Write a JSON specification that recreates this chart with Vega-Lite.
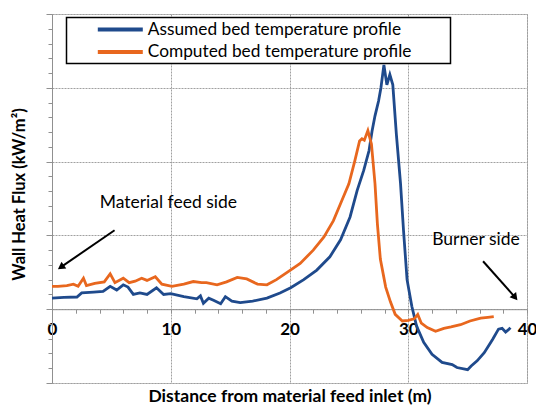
{
  "$schema": "https://vega.github.io/schema/vega-lite/v6.json",
  "width": 475,
  "height": 369,
  "autosize": {"type": "none"},
  "padding": {"left": 52, "top": 14, "right": 9, "bottom": 22},
  "background": "white",
  "config": {
    "font": "Lato",
    "view": {"stroke": "#a0a0a0", "strokeDash": [2, 1], "strokeWidth": 1},
    "axis": {
      "gridColor": "#a0a0a0",
      "gridDash": [2, 1],
      "gridWidth": 1,
      "domainColor": "#909090",
      "tickColor": "#909090",
      "labelColor": "black",
      "titleColor": "black"
    },
    "legend": {
      "orient": "none",
      "legendX": 14.5,
      "legendY": 3.5,
      "padding": 2.5,
      "strokeColor": "black",
      "strokeWidth": 1.5,
      "fillColor": "white",
      "symbolType": "M-3,0H3",
      "symbolSize": 225,
      "symbolStrokeWidth": 4,
      "symbolOffset": 41.8,
      "labelOffset": 18,
      "labelFont": "Lato",
      "labelFontSize": 17.3,
      "labelColor": "black",
      "rowPadding": 4.5,
      "labelLimit": 600
    }
  },
  "datasets": {
    "profiles": [
      {"series": "Assumed bed temperature profile", "x": 0.0, "y": 0.15},
      {"series": "Assumed bed temperature profile", "x": 1.0, "y": 0.16},
      {"series": "Assumed bed temperature profile", "x": 2.1, "y": 0.165},
      {"series": "Assumed bed temperature profile", "x": 2.5, "y": 0.22},
      {"series": "Assumed bed temperature profile", "x": 3.5, "y": 0.23},
      {"series": "Assumed bed temperature profile", "x": 4.3, "y": 0.24},
      {"series": "Assumed bed temperature profile", "x": 4.9, "y": 0.31},
      {"series": "Assumed bed temperature profile", "x": 5.45, "y": 0.26},
      {"series": "Assumed bed temperature profile", "x": 6.0, "y": 0.33},
      {"series": "Assumed bed temperature profile", "x": 6.4, "y": 0.3},
      {"series": "Assumed bed temperature profile", "x": 6.85, "y": 0.2},
      {"series": "Assumed bed temperature profile", "x": 7.4, "y": 0.22},
      {"series": "Assumed bed temperature profile", "x": 8.0, "y": 0.2},
      {"series": "Assumed bed temperature profile", "x": 8.8, "y": 0.29},
      {"series": "Assumed bed temperature profile", "x": 9.4, "y": 0.2},
      {"series": "Assumed bed temperature profile", "x": 10.0, "y": 0.21},
      {"series": "Assumed bed temperature profile", "x": 11.1, "y": 0.17},
      {"series": "Assumed bed temperature profile", "x": 12.2, "y": 0.14},
      {"series": "Assumed bed temperature profile", "x": 12.5, "y": 0.18},
      {"series": "Assumed bed temperature profile", "x": 12.75, "y": 0.08},
      {"series": "Assumed bed temperature profile", "x": 13.2, "y": 0.15},
      {"series": "Assumed bed temperature profile", "x": 13.6, "y": 0.12},
      {"series": "Assumed bed temperature profile", "x": 14.2, "y": 0.075},
      {"series": "Assumed bed temperature profile", "x": 14.6, "y": 0.17},
      {"series": "Assumed bed temperature profile", "x": 15.15, "y": 0.11},
      {"series": "Assumed bed temperature profile", "x": 15.85, "y": 0.09},
      {"series": "Assumed bed temperature profile", "x": 16.9, "y": 0.11},
      {"series": "Assumed bed temperature profile", "x": 18.1, "y": 0.15},
      {"series": "Assumed bed temperature profile", "x": 19.2, "y": 0.22},
      {"series": "Assumed bed temperature profile", "x": 20.1, "y": 0.29},
      {"series": "Assumed bed temperature profile", "x": 21.2, "y": 0.4},
      {"series": "Assumed bed temperature profile", "x": 22.3, "y": 0.53},
      {"series": "Assumed bed temperature profile", "x": 23.4, "y": 0.71},
      {"series": "Assumed bed temperature profile", "x": 24.3, "y": 0.94},
      {"series": "Assumed bed temperature profile", "x": 25.1, "y": 1.25},
      {"series": "Assumed bed temperature profile", "x": 25.7, "y": 1.61},
      {"series": "Assumed bed temperature profile", "x": 26.25, "y": 1.88},
      {"series": "Assumed bed temperature profile", "x": 26.7, "y": 2.15},
      {"series": "Assumed bed temperature profile", "x": 26.95, "y": 2.41},
      {"series": "Assumed bed temperature profile", "x": 27.2, "y": 2.62},
      {"series": "Assumed bed temperature profile", "x": 27.5, "y": 2.82},
      {"series": "Assumed bed temperature profile", "x": 27.7, "y": 3.0},
      {"series": "Assumed bed temperature profile", "x": 27.95, "y": 3.31},
      {"series": "Assumed bed temperature profile", "x": 28.2, "y": 3.04},
      {"series": "Assumed bed temperature profile", "x": 28.45, "y": 3.18},
      {"series": "Assumed bed temperature profile", "x": 28.7, "y": 3.04},
      {"series": "Assumed bed temperature profile", "x": 29.0, "y": 2.37},
      {"series": "Assumed bed temperature profile", "x": 29.35, "y": 1.7},
      {"series": "Assumed bed temperature profile", "x": 29.6, "y": 1.07},
      {"series": "Assumed bed temperature profile", "x": 29.9, "y": 0.4},
      {"series": "Assumed bed temperature profile", "x": 30.3, "y": 0.04},
      {"series": "Assumed bed temperature profile", "x": 30.7, "y": -0.23},
      {"series": "Assumed bed temperature profile", "x": 31.3, "y": -0.45},
      {"series": "Assumed bed temperature profile", "x": 32.0, "y": -0.61},
      {"series": "Assumed bed temperature profile", "x": 32.85, "y": -0.72},
      {"series": "Assumed bed temperature profile", "x": 33.7, "y": -0.75},
      {"series": "Assumed bed temperature profile", "x": 34.1, "y": -0.79},
      {"series": "Assumed bed temperature profile", "x": 35.0, "y": -0.82},
      {"series": "Assumed bed temperature profile", "x": 35.3, "y": -0.77},
      {"series": "Assumed bed temperature profile", "x": 35.8, "y": -0.7},
      {"series": "Assumed bed temperature profile", "x": 36.4, "y": -0.59},
      {"series": "Assumed bed temperature profile", "x": 37.1, "y": -0.41},
      {"series": "Assumed bed temperature profile", "x": 37.6, "y": -0.27},
      {"series": "Assumed bed temperature profile", "x": 37.9, "y": -0.26},
      {"series": "Assumed bed temperature profile", "x": 38.2, "y": -0.31},
      {"series": "Assumed bed temperature profile", "x": 38.5, "y": -0.27},
      {"series": "Assumed bed temperature profile", "x": 38.6, "y": -0.25},
      {"series": "Computed bed temperature profile", "x": 0.0, "y": 0.31},
      {"series": "Computed bed temperature profile", "x": 0.5, "y": 0.31},
      {"series": "Computed bed temperature profile", "x": 1.25, "y": 0.32},
      {"series": "Computed bed temperature profile", "x": 1.8, "y": 0.34},
      {"series": "Computed bed temperature profile", "x": 2.2, "y": 0.31},
      {"series": "Computed bed temperature profile", "x": 2.65, "y": 0.42},
      {"series": "Computed bed temperature profile", "x": 2.9, "y": 0.32},
      {"series": "Computed bed temperature profile", "x": 3.6, "y": 0.35},
      {"series": "Computed bed temperature profile", "x": 4.4, "y": 0.37},
      {"series": "Computed bed temperature profile", "x": 4.9, "y": 0.48},
      {"series": "Computed bed temperature profile", "x": 5.3, "y": 0.36},
      {"series": "Computed bed temperature profile", "x": 6.0, "y": 0.42},
      {"series": "Computed bed temperature profile", "x": 6.5, "y": 0.36},
      {"series": "Computed bed temperature profile", "x": 7.0, "y": 0.38},
      {"series": "Computed bed temperature profile", "x": 7.55, "y": 0.42},
      {"series": "Computed bed temperature profile", "x": 8.0, "y": 0.39},
      {"series": "Computed bed temperature profile", "x": 8.7, "y": 0.44},
      {"series": "Computed bed temperature profile", "x": 9.25, "y": 0.34},
      {"series": "Computed bed temperature profile", "x": 10.1, "y": 0.31},
      {"series": "Computed bed temperature profile", "x": 11.1, "y": 0.34},
      {"series": "Computed bed temperature profile", "x": 11.9, "y": 0.375},
      {"series": "Computed bed temperature profile", "x": 12.6, "y": 0.36},
      {"series": "Computed bed temperature profile", "x": 13.0, "y": 0.36},
      {"series": "Computed bed temperature profile", "x": 13.9, "y": 0.33},
      {"series": "Computed bed temperature profile", "x": 14.7, "y": 0.37},
      {"series": "Computed bed temperature profile", "x": 15.6, "y": 0.43},
      {"series": "Computed bed temperature profile", "x": 16.4, "y": 0.41},
      {"series": "Computed bed temperature profile", "x": 17.3, "y": 0.34},
      {"series": "Computed bed temperature profile", "x": 18.1, "y": 0.33},
      {"series": "Computed bed temperature profile", "x": 18.9, "y": 0.4},
      {"series": "Computed bed temperature profile", "x": 19.8, "y": 0.5},
      {"series": "Computed bed temperature profile", "x": 20.9, "y": 0.62},
      {"series": "Computed bed temperature profile", "x": 22.0, "y": 0.8},
      {"series": "Computed bed temperature profile", "x": 22.9, "y": 0.98},
      {"series": "Computed bed temperature profile", "x": 23.7, "y": 1.2},
      {"series": "Computed bed temperature profile", "x": 24.4, "y": 1.47},
      {"series": "Computed bed temperature profile", "x": 25.0, "y": 1.7},
      {"series": "Computed bed temperature profile", "x": 25.5, "y": 2.01},
      {"series": "Computed bed temperature profile", "x": 25.9, "y": 2.28},
      {"series": "Computed bed temperature profile", "x": 26.1, "y": 2.31},
      {"series": "Computed bed temperature profile", "x": 26.3, "y": 2.29},
      {"series": "Computed bed temperature profile", "x": 26.6, "y": 2.42},
      {"series": "Computed bed temperature profile", "x": 26.9, "y": 2.24},
      {"series": "Computed bed temperature profile", "x": 27.2, "y": 1.7},
      {"series": "Computed bed temperature profile", "x": 27.4, "y": 1.16},
      {"series": "Computed bed temperature profile", "x": 27.65, "y": 0.68},
      {"series": "Computed bed temperature profile", "x": 28.1, "y": 0.3},
      {"series": "Computed bed temperature profile", "x": 28.5, "y": 0.1},
      {"series": "Computed bed temperature profile", "x": 28.9, "y": -0.07},
      {"series": "Computed bed temperature profile", "x": 29.5, "y": -0.16},
      {"series": "Computed bed temperature profile", "x": 30.0, "y": -0.15},
      {"series": "Computed bed temperature profile", "x": 30.5, "y": -0.13},
      {"series": "Computed bed temperature profile", "x": 30.8, "y": -0.07},
      {"series": "Computed bed temperature profile", "x": 31.1, "y": -0.19},
      {"series": "Computed bed temperature profile", "x": 31.6, "y": -0.25},
      {"series": "Computed bed temperature profile", "x": 32.3, "y": -0.3},
      {"series": "Computed bed temperature profile", "x": 33.0, "y": -0.26},
      {"series": "Computed bed temperature profile", "x": 33.6, "y": -0.24},
      {"series": "Computed bed temperature profile", "x": 34.4, "y": -0.21},
      {"series": "Computed bed temperature profile", "x": 35.2, "y": -0.16},
      {"series": "Computed bed temperature profile", "x": 36.1, "y": -0.12},
      {"series": "Computed bed temperature profile", "x": 36.7, "y": -0.11},
      {"series": "Computed bed temperature profile", "x": 37.2, "y": -0.1}
    ],
    "notes": [
      {"label": "Material feed side", "x": 9.8, "y": 1.44},
      {"label": "Burner side", "x": 35.7, "y": 0.94}
    ],
    "arrows": [
      {"arrow": "feed", "x": 0.75, "y": 0.57, "x2": 5.27, "y2": 1.07},
      {"arrow": "burner", "x": 39.0, "y": 0.16, "x2": 36.3, "y2": 0.65}
    ]
  },
  "encoding": {
    "x": {
      "field": "x",
      "type": "quantitative",
      "scale": {"domain": [0, 40], "nice": false, "zero": false},
      "axis": {
        "title": "Distance from material feed inlet (m)",
        "titleFont": "Lato",
        "titleFontSize": 17.5,
        "titleFontWeight": "bold",
        "titleY": 78,
        "values": [0, 2, 4, 6, 8, 10, 12, 14, 16, 18, 20, 22, 24, 26, 28, 30, 32, 34, 36, 38, 40],
        "labelExpr": "datum.value % 10 === 0 ? datum.label : ''",
        "labelFont": "Lato",
        "labelFontSize": 17,
        "labelFontWeight": "bold",
        "labelFlush": false,
        "labelPadding": 8,
        "tickSize": 4,
        "offset": -73.8,
        "grid": true,
        "gridOpacity": {"condition": {"test": "datum.value % 10 === 0", "value": 1}, "value": 0}
      }
    },
    "y": {
      "field": "y",
      "type": "quantitative",
      "scale": {"domain": [-1, 4], "nice": false, "zero": false},
      "axis": {
        "title": "Wall Heat Flux (kW/m²)",
        "titleFont": "Lato",
        "titleFontSize": 16.5,
        "titleFontWeight": "bold",
        "titleX": -33,
        "titleY": 180,
        "titleAlign": "center",
        "titleBaseline": "middle",
        "titleAngle": -90,
        "values": [-1, -0.8, -0.6, -0.4, -0.2, 0, 0.2, 0.4, 0.6, 0.8, 1, 1.2, 1.4, 1.6, 1.8, 2, 2.2, 2.4, 2.6, 2.8, 3, 3.2, 3.4, 3.6, 3.8, 4],
        "labels": false,
        "tickSize": {"condition": {"test": "abs(datum.value - round(datum.value)) < 0.001", "value": 6}, "value": 4},
        "grid": true,
        "gridOpacity": {"condition": {"test": "abs(datum.value - round(datum.value)) < 0.001", "value": 1}, "value": 0}
      }
    }
  },
  "layer": [
    {
      "data": {"name": "profiles"},
      "mark": {"type": "line", "strokeWidth": 2.8, "interpolate": "linear"},
      "encoding": {
        "color": {
          "field": "series",
          "type": "nominal",
          "scale": {
            "domain": ["Assumed bed temperature profile", "Computed bed temperature profile"],
            "range": ["#1f4a8c", "#e8671e"]
          },
          "legend": {
            "title": null,
            "labelExpr": "datum.label + '\u2800\u2800\u2800'"
          }
        }
      }
    },
    {
      "data": {"name": "notes"},
      "mark": {"type": "text", "font": "Lato", "fontSize": 17.5, "color": "black", "align": "center", "baseline": "middle"},
      "encoding": {"text": {"field": "label"}}
    },
    {
      "data": {"name": "arrows"},
      "mark": {"type": "rule", "color": "black", "strokeWidth": 2},
      "encoding": {"x2": {"field": "x2"}, "y2": {"field": "y2"}}
    },
    {
      "data": {"name": "arrows"},
      "transform": [{"filter": "datum.arrow === 'feed'"}],
      "mark": {"type": "point", "shape": "triangle-up", "filled": true, "color": "black", "opacity": 1, "size": 70, "angle": 235},
      "encoding": {}
    },
    {
      "data": {"name": "arrows"},
      "transform": [{"filter": "datum.arrow === 'burner'"}],
      "mark": {"type": "point", "shape": "triangle-up", "filled": true, "color": "black", "opacity": 1, "size": 70, "angle": 141},
      "encoding": {}
    }
  ]
}
